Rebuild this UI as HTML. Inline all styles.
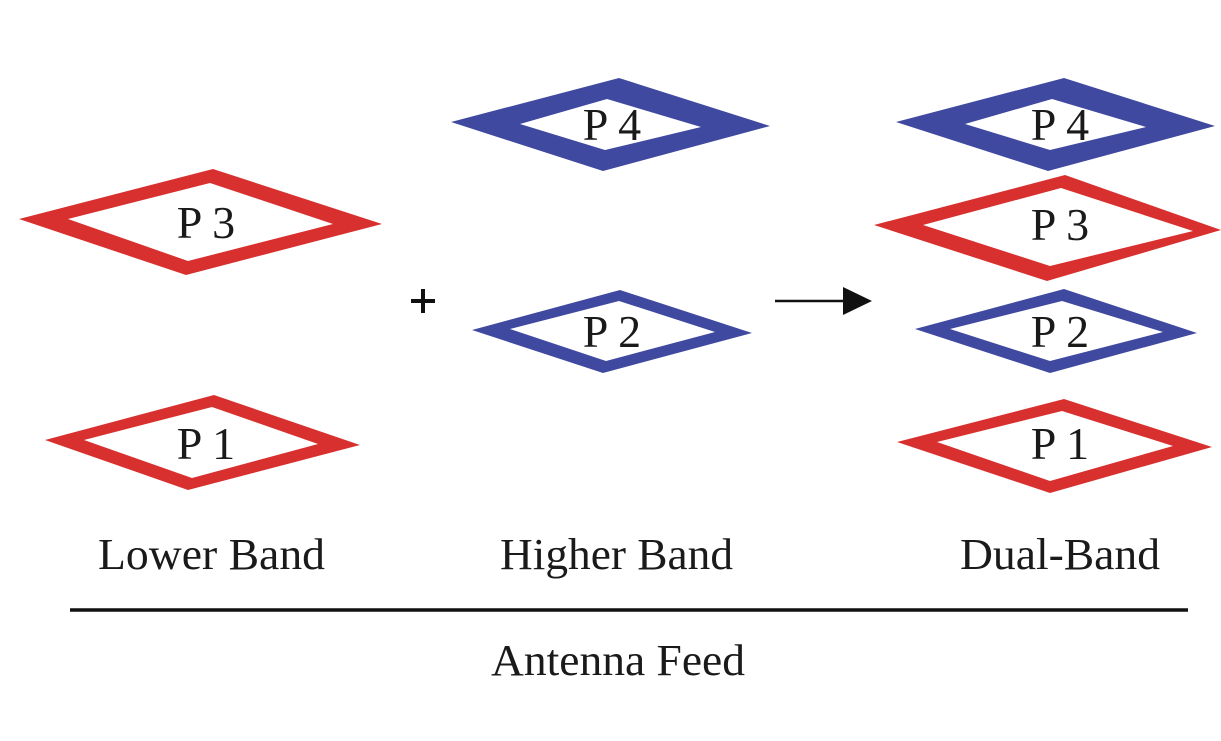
<!DOCTYPE html>
<html><head><style>
html,body{margin:0;padding:0;background:#fff;}
svg{display:block;}
text{font-family:"Liberation Serif",serif;fill:#1a1a1a;}
</style></head><body>
<svg width="1221" height="741" viewBox="0 0 1221 741" xmlns="http://www.w3.org/2000/svg">
<g fill-rule="evenodd">
<path fill="#d8302f" d="M19,219 L213,169 L382,224 L186,275 Z M68,219 L188,261 L333,224 L210,183 Z"/>
<path fill="#d8302f" d="M45,440 L214,395 L360,445 L188,490 Z M84,440 L192,478 L318,444 L212,407 Z"/>
<path fill="#4049a0" d="M451,122 L619,78 L770,126 L603,171 Z M520,124 L605,150 L701,127 L607,99 Z"/>
<path fill="#4049a0" d="M472,330 L620,290 L752,333 L603,373 Z M510,329 L606,361 L715,332 L619,301 Z"/>
<path fill="#4049a0" d="M896,122 L1064,78 L1215,126 L1048,171 Z M965,124 L1050,150 L1146,127 L1052,99 Z"/>
<path fill="#d8302f" d="M874,225 L1065,175 L1221,230 L1047,281 Z M923,225 L1050,266 L1193,231 L1061,188 Z"/>
<path fill="#4049a0" d="M915,329 L1064,289 L1197,333 L1050,373 Z M950,329 L1050,361 L1163,332 L1062,301 Z"/>
<path fill="#d8302f" d="M897,442 L1064,399 L1212,447 L1050,493 Z M937,442 L1050,481 L1173,446 L1062,411 Z"/>
</g>
<g font-size="46" text-anchor="middle">
<text x="206" y="238">P 3</text>
<text x="206" y="459">P 1</text>
<text x="612" y="140">P 4</text>
<text x="612" y="347">P 2</text>
<text x="1060" y="140">P 4</text>
<text x="1060" y="240">P 3</text>
<text x="1060" y="347">P 2</text>
<text x="1060" y="459">P 1</text>
</g>
<g font-size="44">
<text x="98" y="569" textLength="227" lengthAdjust="spacingAndGlyphs">Lower Band</text>
<text x="500" y="569" textLength="233" lengthAdjust="spacingAndGlyphs">Higher Band</text>
<text x="960" y="569" textLength="200" lengthAdjust="spacingAndGlyphs">Dual-Band</text>
<text x="491" y="675" textLength="254" lengthAdjust="spacingAndGlyphs">Antenna Feed</text>
</g>
<line x1="70" y1="610" x2="1188" y2="610" stroke="#111" stroke-width="3.5"/>
<g stroke="#111" stroke-width="4">
<line x1="411" y1="301" x2="435" y2="301"/>
<line x1="423" y1="289" x2="423" y2="313"/>
</g>
<line x1="775" y1="301" x2="848" y2="301" stroke="#111" stroke-width="2.5"/>
<path d="M843,287 L872,301 L843,315 Z" fill="#111"/>
</svg>
</body></html>
